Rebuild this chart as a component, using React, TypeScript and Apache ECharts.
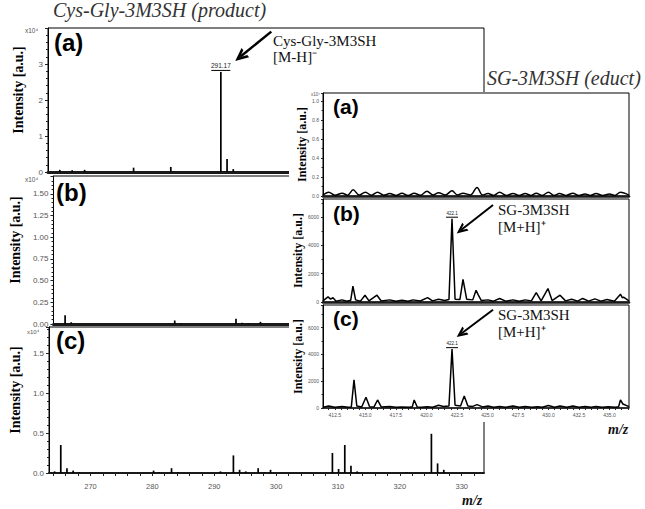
import React, { useEffect, useRef } from 'react';
import * as echarts from 'echarts';

// ---------- Left: Cys-Gly-3M3SH (product), intensity in x10^4 ----------
const productMzRange = [263.3, 333.6];
const productA: [number, number][] = [
  [265.2, 0.06], [267.2, 0.05], [269.2, 0.06], [277.1, 0.12], [283.1, 0.14],
  [291.17, 2.78], [292.17, 0.36], [293.17, 0.08],
];
const productB: [number, number][] = [
  [265.2, 0.1], [266.2, 0.02], [283.1, 0.04], [284.1, 0.01], [293.1, 0.06],
  [294.1, 0.015], [295.1, 0.01], [297.1, 0.025],
];
const productC: [number, number][] = [
  [264.2, 0.02], [265.2, 0.35], [266.2, 0.06], [267.2, 0.03], [268.2, 0.01],
  [280.2, 0.03], [281.1, 0.01], [283.1, 0.06], [284.1, 0.01], [291.0, 0.02],
  [293.1, 0.22], [294.1, 0.04], [295.1, 0.02], [297.1, 0.06], [298.1, 0.01],
  [299.1, 0.04], [309.1, 0.25], [310.1, 0.05], [311.1, 0.35], [312.1, 0.09],
  [313.1, 0.02], [321.1, 0.01], [325.1, 0.49], [326.1, 0.12], [327.1, 0.04],
];
const productXLabels = [270, 280, 290, 300, 310, 320, 330];
const productXTicks = [264, 266, 268, 270, 272, 274, 276, 278, 280, 282, 284, 286, 288, 290, 292, 294, 296, 298, 300, 302, 304, 306, 308, 310, 312, 314, 316, 318, 320, 322, 324, 326, 328, 330, 332];
const productYMax = [4.0, 1.705, 1.825];
const productYInterval = [1, 0.25, 0.5];
const productYLabelMax = [3, 1.5, 1.5];
const productYDigits = [0, 2, 1];
const productArrowFrom: [number, number] = [299.3, 3.9];
const productArrowTo: [number, number] = [294.3, 3.2];

// ---------- Inset: SG-3M3SH (educt) ----------
const eductMzRange = [411.53, 436.6];
const eductA: [number, number][] = [
  [411.53, 0.008], [412.0, 0.04], [412.5, 0.008], [413.1, 0.03], [413.55, 0.008], [414.0, 0.065],
  [414.5, 0.01], [415.0, 0.04], [415.5, 0.008], [416.0, 0.04], [416.5, 0.008], [417.0, 0.025],
  [417.5, 0.006], [418.0, 0.03], [418.5, 0.006], [419.0, 0.03], [419.5, 0.008], [420.05, 0.05],
  [420.55, 0.01], [421.0, 0.035], [421.55, 0.01], [422.1, 0.055], [422.55, 0.01], [423.0, 0.03],
  [423.6, 0.01], [424.15, 0.09], [424.6, 0.01], [425.05, 0.025], [425.5, 0.006], [426.0, 0.04],
  [426.55, 0.006], [427.1, 0.025], [427.6, 0.006], [428.1, 0.025], [428.55, 0.006], [429.0, 0.03],
  [429.5, 0.006], [430.0, 0.04], [430.45, 0.006], [430.9, 0.025], [431.45, 0.006], [432.0, 0.03],
  [432.5, 0.006], [433.0, 0.02], [433.45, 0.006], [433.9, 0.025], [434.45, 0.006], [435.0, 0.02],
  [435.45, 0.006], [435.9, 0.04], [436.6, 0.01],
];
const eductB: [number, number][] = [
  [411.53, 80], [411.94, 360], [412.15, 200], [412.35, 300], [412.6, 60], [413.08, 150], [413.5, 50],
  [413.8, 120], [413.98, 1120], [414.2, 150], [414.6, 60], [414.97, 480], [415.3, 80], [415.95, 480],
  [416.3, 70], [417.0, 150], [417.5, 60], [418.0, 120], [418.5, 60], [418.9, 150], [419.5, 70],
  [420.1, 310], [420.5, 80], [421.0, 200], [421.5, 100], [421.85, 180], [422.1, 5880], [422.35, 200],
  [422.75, 180], [423.0, 1600], [423.3, 200], [423.8, 150], [424.07, 830], [424.25, 500], [424.5, 100],
  [425.05, 150], [425.5, 60], [426.0, 250], [426.5, 60], [427.1, 150], [427.6, 60], [428.1, 150],
  [428.6, 80], [429.0, 670], [429.4, 80], [429.96, 950], [430.3, 100], [430.95, 480], [431.4, 80],
  [431.9, 200], [432.4, 60], [432.8, 250], [433.3, 60], [433.8, 220], [434.3, 60], [434.8, 180],
  [435.4, 60], [435.9, 550], [436.05, 300], [436.15, 350], [436.6, 80],
];
const eductC: [number, number][] = [
  [411.53, 60], [412.0, 150], [412.5, 60], [413.1, 120], [413.6, 50], [413.85, 80], [414.07, 2100],
  [414.3, 150], [414.7, 80], [415.05, 800], [415.35, 100], [415.7, 70], [416.0, 600], [416.3, 80],
  [417.0, 120], [417.5, 50], [418.0, 80], [418.6, 60], [418.85, 100], [419.0, 600], [419.25, 80],
  [419.6, 50], [420.05, 100], [420.5, 60], [421.0, 200], [421.4, 120], [421.85, 150], [422.1, 4400],
  [422.35, 200], [422.8, 150], [423.1, 900], [423.4, 150], [423.8, 120], [424.15, 250], [424.6, 80],
  [425.05, 150], [425.5, 60], [426.0, 120], [426.5, 60], [427.1, 150], [427.6, 50], [428.1, 120],
  [428.6, 50], [429.1, 100], [429.5, 50], [430.0, 180], [430.5, 60], [430.95, 150], [431.5, 50],
  [432.0, 150], [432.5, 50], [433.0, 120], [433.5, 50], [433.9, 120], [434.4, 50], [434.9, 100],
  [435.5, 50], [435.75, 100], [435.9, 600], [436.1, 300], [436.6, 100],
];
const eductXLabels = [412.5, 415, 417.5, 420, 422.5, 425, 427.5, 430, 432.5, 435];
const eductXTicks = [412, 412.5, 413, 413.5, 414, 414.5, 415, 415.5, 416, 416.5, 417, 417.5, 418, 418.5, 419, 419.5, 420, 420.5, 421, 421.5, 422, 422.5, 423, 423.5, 424, 424.5, 425, 425.5, 426, 426.5, 427, 427.5, 428, 428.5, 429, 429.5, 430, 430.5, 431, 431.5, 432, 432.5, 433, 433.5, 434, 434.5, 435, 435.5, 436, 436.5];
const eductYMax = [1.084, 7270, 7700];
const eductYInterval = [0.2, 2000, 2000];
const eductYLabelMax = [1.0, 6000, 6000];
const eductYDigits = [1, 0, 0];
const eductArrowFromB: [number, number] = [425.46, 6845];
const eductArrowToB: [number, number] = [422.84, 5080];
const eductArrowFromC: [number, number] = [425.46, 7350];
const eductArrowToC: [number, number] = [422.84, 5550];

const SANS = '"Liberation Sans", Arial, sans-serif';
const SERIF = '"Liberation Serif", "Times New Roman", serif';
const CHEVRON = 'path://M5,0 L10,10 L7.6,10 L5,4.6 L2.4,10 L0,10 Z';

const fmt = (interval: number, digits: number, maxLabel: number) => (v: number) => {
  const k = v / interval;
  if (Math.abs(k - Math.round(k)) > 1e-6 || v > maxLabel + 1e-9) return '';
  return v.toFixed(digits);
};

const peakOf = (d: [number, number][]) => d.reduce((a, b) => (b[1] > a[1] ? b : a));

const peakMark = (d: [number, number][], text: string, fs: number, barW: number, z: number) => ({
  symbol: 'circle',
  symbolSize: 1,
  silent: true,
  z,
  itemStyle: { color: 'rgba(0,0,0,0)' },
  label: {
    show: true,
    position: 'top',
    distance: 0,
    formatter: `{t|${text}}\n{u|}`,
    rich: {
      t: { fontSize: fs, color: '#222', fontFamily: SANS, lineHeight: fs + 1, align: 'center' },
      u: { width: barW, height: 1, lineHeight: 2, backgroundColor: '#000', align: 'center' },
    },
  },
  data: [{ coord: peakOf(d) }],
});

const arrow = (from: [number, number], to: [number, number], width: number, size: number[], z: number) => ({
  silent: true,
  z,
  symbol: ['none', CHEVRON],
  symbolSize: size,
  lineStyle: { color: '#000', width, type: 'solid' },
  label: { show: false },
  emphasis: { disabled: true },
  data: [[{ coord: from }, { coord: to }]],
});

function buildOption() {
  const leftGrids = [
    { left: 48, top: 28, width: 436, height: 144 },
    { left: 48, top: 176, width: 436, height: 148 },
    { left: 48, top: 327, width: 436, height: 146 },
  ];
  const insetGrids = [
    { left: 323, top: 93, width: 306, height: 103 },
    { left: 323, top: 199, width: 306, height: 103 },
    { left: 323, top: 305, width: 306, height: 103 },
  ];
  const grid: any[] = [];
  leftGrids.forEach((g) => grid.push({ ...g, show: true, borderColor: '#000', borderWidth: 1, z: 0 }));
  insetGrids.forEach((g) => grid.push({ ...g, show: true, borderColor: '#000', borderWidth: 1, z: 11 }));

  const xAxis: any[] = [];
  const yAxis: any[] = [];
  for (let i = 0; i < 3; i++) {
    const last = i === 2;
    xAxis.push({
      type: 'value', gridIndex: i, min: productMzRange[0], max: productMzRange[1], z: 1,
      axisLine: { show: true, onZero: false, lineStyle: { color: '#1a1a1a', width: last ? 2 : 3 } },
      axisTick: { show: last, customValues: productXTicks, length: 3, lineStyle: { color: '#222' } },
      axisLabel: { show: last, customValues: productXLabels, fontSize: 7.5, color: '#555', fontFamily: SANS, margin: 9 },
      splitLine: { show: false },
    });
    yAxis.push({
      type: 'value', gridIndex: i, min: 0, max: productYMax[i], interval: productYInterval[i], z: 1,
      axisLine: { show: true, lineStyle: { color: '#000' } },
      axisTick: { show: true, length: 3, lineStyle: { color: '#222' } },
      minorTick: { show: true, splitNumber: 5, length: 2, lineStyle: { color: '#222' } },
      axisLabel: { fontSize: 8, color: '#555', fontFamily: SANS, margin: 5, formatter: fmt(productYInterval[i], productYDigits[i], productYLabelMax[i]) },
      splitLine: { show: false },
      name: 'Intensity [a.u.]', nameLocation: 'middle', nameGap: 23, nameRotate: 90,
      nameTextStyle: { fontFamily: SERIF, fontWeight: 'bold', fontSize: 14, color: '#000', padding: [0, 0, 0, 20] },
    });
  }
  for (let i = 0; i < 3; i++) {
    const last = i === 2;
    xAxis.push({
      type: 'value', gridIndex: 3 + i, min: eductMzRange[0], max: eductMzRange[1], z: 11,
      axisLine: { show: true, onZero: false, lineStyle: { color: '#1a1a1a', width: last ? 1.5 : 2.5 } },
      axisTick: { show: last, customValues: eductXTicks, length: 2, lineStyle: { color: '#222' } },
      axisLabel: { show: last, customValues: eductXLabels, fontSize: 5, color: '#555', fontFamily: SANS, margin: 4, formatter: (v: number) => v.toFixed(1) },
      splitLine: { show: false },
    });
    yAxis.push({
      type: 'value', gridIndex: 3 + i, min: 0, max: eductYMax[i], interval: eductYInterval[i], z: 11,
      axisLine: { show: true, lineStyle: { color: '#000' } },
      axisTick: { show: true, length: 2, lineStyle: { color: '#222' } },
      minorTick: { show: true, splitNumber: 2, length: 1.5, lineStyle: { color: '#222' } },
      axisLabel: { fontSize: 5, color: '#555', fontFamily: SANS, margin: 4, formatter: fmt(eductYInterval[i], eductYDigits[i], eductYLabelMax[i]) },
      splitLine: { show: false },
      name: 'Intensity [a.u.]', nameLocation: 'middle', nameGap: 15, nameRotate: 90,
      nameTextStyle: { fontFamily: SERIF, fontWeight: 'bold', fontSize: 12, color: '#000' },
    });
  }

  const barSeries = (data: [number, number][], idx: number, extra: any = {}) => ({
    type: 'bar', xAxisIndex: idx, yAxisIndex: idx, data, barWidth: 1.7, z: 2, silent: true,
    itemStyle: { color: '#000' }, ...extra,
  });
  const lineSeries = (data: [number, number][], idx: number, extra: any = {}) => ({
    type: 'line', xAxisIndex: idx, yAxisIndex: idx, data, symbol: 'none', z: 13, silent: true,
    lineStyle: { color: '#000', width: 1.5 }, ...extra,
  });

  const series: any[] = [
    barSeries(productA, 0, {
      markPoint: peakMark(productA, '291.17', 6.5, 19, 3),
      markLine: arrow(productArrowFrom, productArrowTo, 2.5, [12, 13], 3),
    }),
    barSeries(productB, 1),
    barSeries(productC, 2),
    lineSeries(eductA, 3, { smooth: 0.35 }),
    lineSeries(eductB, 4, {
      markPoint: peakMark(eductB, '422.1', 4.5, 12, 15),
      markLine: arrow(eductArrowFromB, eductArrowToB, 2, [10, 11], 15),
    }),
    lineSeries(eductC, 5, {
      markPoint: peakMark(eductC, '422.1', 4.5, 12, 15),
      markLine: arrow(eductArrowFromC, eductArrowToC, 2, [10, 11], 15),
    }),
  ];

  const txt = (text: string, x: number, y: number, font: string, fill = '#000', z = 20) => ({
    type: 'text', x, y, z, silent: true,
    style: { text, font, fill, verticalAlign: 'top', align: 'left' },
  });
  const panelFontL = `bold 24px ${SANS}`;
  const panelFontR = `bold 21px ${SANS}`;

  const graphic = {
    elements: [
      { type: 'rect', z: 10, silent: true, shape: { x: 289, y: 92, width: 356, height: 330 }, style: { fill: '#fff' } },
      txt('(a)', 54, 30, panelFontL),
      txt('(b)', 56, 180, panelFontL),
      txt('(c)', 56, 328, panelFontL),
      txt('(a)', 333, 96, panelFontR),
      txt('(b)', 333, 203, panelFontR),
      txt('(c)', 333, 308, panelFontR),
      txt('x10⁴', 25, 27, `6.5px ${SANS}`, '#555'),
      txt('x10⁴', 25, 176, `6.5px ${SANS}`, '#555'),
      txt('x10⁴', 27, 329, `6px ${SANS}`, '#555'),
      txt('x10⁴', 311, 92, `4.5px ${SANS}`, '#555'),
      {
        type: 'text', x: 273, y: 33, z: 20, silent: true,
        style: { text: 'Cys-Gly-3M3SH\n[M-H]⁻', font: `15px ${SERIF}`, fill: '#111', lineHeight: 16, verticalAlign: 'top' },
      },
      {
        type: 'text', x: 498, y: 201, z: 20, silent: true,
        style: { text: 'SG-3M3SH\n[M+H]⁺', font: `15px ${SERIF}`, fill: '#111', lineHeight: 17, verticalAlign: 'top' },
      },
      {
        type: 'text', x: 498, y: 306, z: 20, silent: true,
        style: { text: 'SG-3M3SH\n[M+H]⁺', font: `15px ${SERIF}`, fill: '#111', lineHeight: 17, verticalAlign: 'top' },
      },
      txt('m/z', 462, 493, `italic bold 14px ${SERIF}`, '#111'),
      txt('m/z', 608, 422, `italic bold 14px ${SERIF}`, '#111'),
    ],
  };

  return {
    animation: false,
    backgroundColor: '#fff',
    title: [
      { text: 'Cys-Gly-3M3SH (product)', left: 53, top: 0, padding: 0, textStyle: { fontFamily: SERIF, fontStyle: 'italic', fontWeight: 'normal', fontSize: 20, color: '#333' } },
      { text: 'SG-3M3SH (educt)', left: 487, top: 68, padding: 0, z: 20, textStyle: { fontFamily: SERIF, fontStyle: 'italic', fontWeight: 'normal', fontSize: 20, color: '#333' } },
    ],
    grid, xAxis, yAxis, series, graphic,
  };
}

export default function App() {
  const ref = useRef<HTMLDivElement>(null);
  useEffect(() => {
    if (!ref.current) return;
    const chart = echarts.init(ref.current, null, { renderer: 'svg' });
    chart.setOption(buildOption() as any);
    return () => chart.dispose();
  }, []);
  return <div ref={ref} style={{ position: 'fixed', left: 0, top: 0, width: 645, height: 509, background: '#fff' }} />;
}
